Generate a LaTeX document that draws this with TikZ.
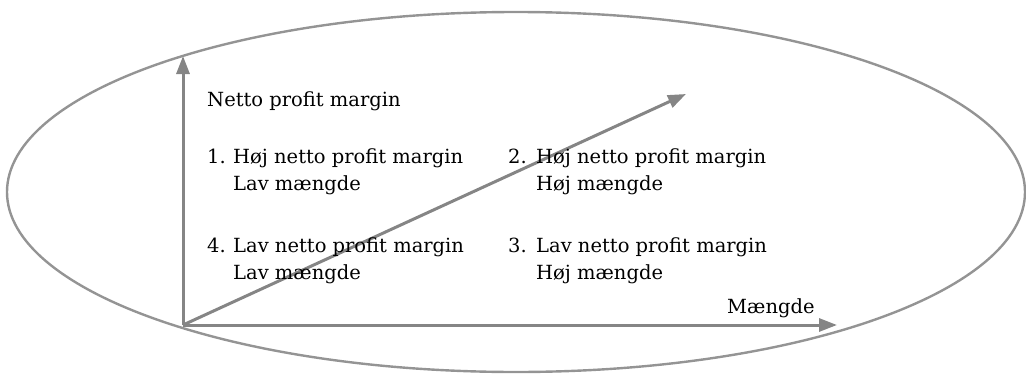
\documentclass[tikz,border=0pt]{standalone}
\usepackage{fontspec}
\setmainfont{DejaVu Serif}
\usetikzlibrary{arrows.meta}
\begin{document}
\begin{tikzpicture}[x=1pt,y=-1pt,
  axis/.style={draw=black!48, line width=3pt, -{Triangle[length=18pt,width=13pt]}},
  lbl/.style={anchor=base west, inner sep=0pt, font=\fontsize{19.5}{23}\selectfont, text=black}]
\useasboundingbox (0,0) rectangle (1026,375);
\draw[black!42, line width=2.4pt] (516,192) ellipse [x radius=509, y radius=180];
\coordinate (O) at (183,325);
\coordinate (Y) at (183,56);
\coordinate (X) at (837,325);
\coordinate (D) at (686,94);
\draw[axis] (O) -- (Y);
\draw[axis] (O) -- (X);
\draw[axis] (O) -- (D);
\node[lbl] (ylab) at (207,106) {Netto profit margin};
\node[lbl] (n1) at (207,163) {1.};
\node[lbl] (t1a) at (233,163) {Høj netto profit margin};
\node[lbl] (t1b) at (233,190) {Lav mængde};
\node[lbl] (n2) at (508,163) {2.};
\node[lbl] (t2a) at (536,163) {Høj netto profit margin};
\node[lbl] (t2b) at (536,190) {Høj mængde};
\node[lbl] (n4) at (207,252) {4.};
\node[lbl] (t4a) at (233,252) {Lav netto profit margin};
\node[lbl] (t4b) at (233,279) {Lav mængde};
\node[lbl] (n3) at (508,252) {3.};
\node[lbl] (t3a) at (536,252) {Lav netto profit margin};
\node[lbl] (t3b) at (536,279) {Høj mængde};
\node[lbl] (xlab) at (727,313) {Mængde};
\end{tikzpicture}
\end{document}
